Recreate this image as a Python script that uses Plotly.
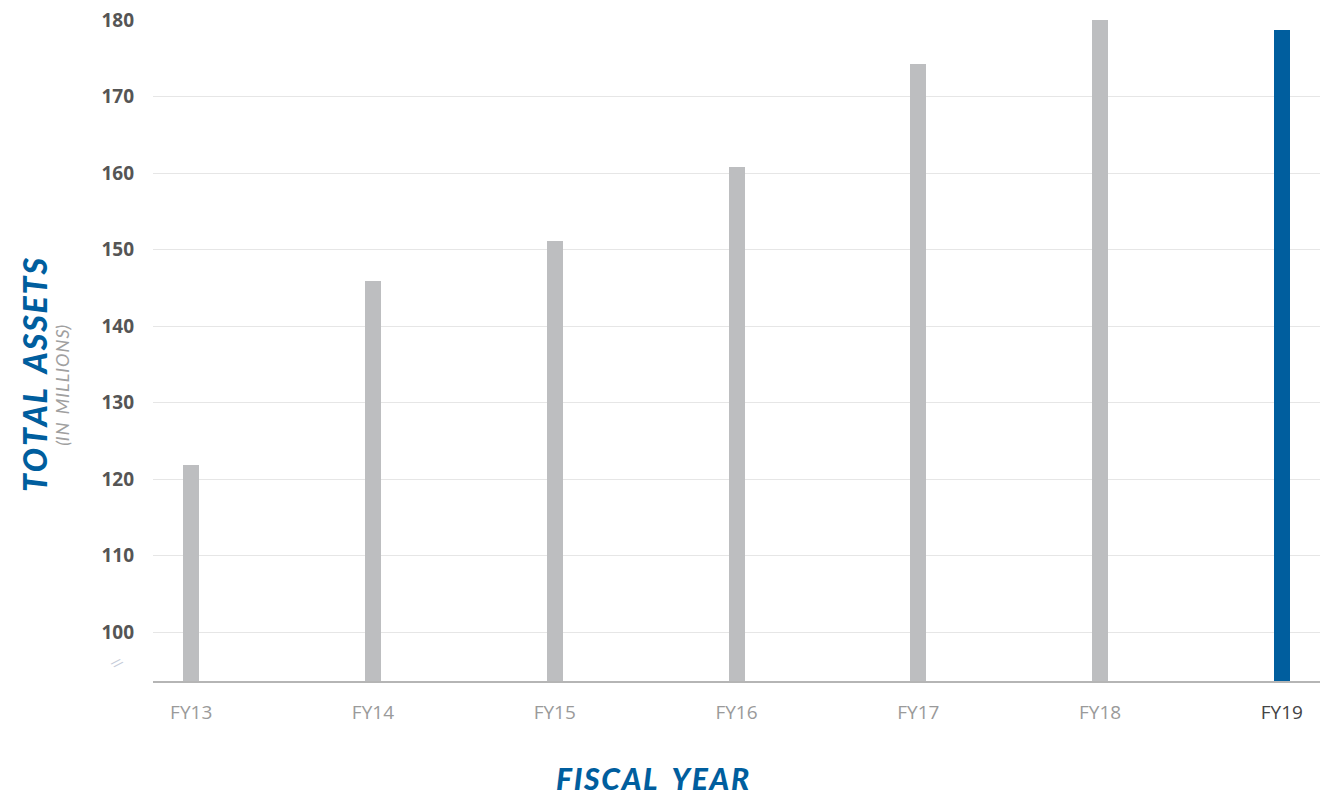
import plotly.graph_objects as go

categories = ["FY13", "FY14", "FY15", "FY16", "FY17", "FY18", "FY19"]
total_assets = [121.8, 145.9, 151.2, 160.8, 174.3, 180.0, 178.8]
y_ticks = [100, 110, 120, 130, 140, 150, 160, 170, 180]
highlight = "FY19"

GRAY = "#bdbec0"
BLUE = "#005e9e"

colors = [BLUE if c == highlight else GRAY for c in categories]
ticktext = [
    f"<span style='color:#444444'>{c}</span>" if c == highlight else c
    for c in categories
]

def spaced(s):
    return "\u200a".join(list(s))

fig = go.Figure()
fig.add_trace(go.Bar(
    x=categories,
    y=total_assets,
    marker=dict(color=colors, line=dict(width=0)),
    width=0.088,
    hoverinfo="x+y",
))

fig.update_layout(
    width=1335, height=796,
    margin=dict(l=153, r=15, t=20, b=115, autoexpand=False),
    paper_bgcolor="white",
    plot_bgcolor="white",
    showlegend=False,
    bargap=0,
    font=dict(family="Open Sans, Noto Sans, sans-serif"),
)

fig.update_xaxes(
    type="category",
    range=[-0.21, 6.21],
    tickmode="array",
    tickvals=categories,
    ticktext=ticktext,
    tickfont=dict(size=19, color="#9a9a9a", family="Open Sans, sans-serif"),
    showgrid=False,
    showline=True,
    linecolor="#b5b5b5",
    linewidth=1.5,
    ticks="",
    ticklabelstandoff=13,
    automargin=False,
    fixedrange=True,
)

fig.update_yaxes(
    range=[93.6, 180.05],
    tickmode="array",
    tickvals=y_ticks,
    ticktext=[str(v) for v in y_ticks],
    tickfont=dict(size=19, color="#555555", family="Open Sans, sans-serif", weight="bold"),
    showgrid=True,
    gridcolor="#e6e6e6",
    gridwidth=1.2,
    showline=False,
    zeroline=False,
    ticks="",
    ticklabelstandoff=18,
    automargin=False,
    fixedrange=True,
)

# axis titles
fig.add_annotation(
    text="<i>" + spaced("TOTAL") + "\u2002" + spaced("ASSETS") + "</i>",
    xref="paper", yref="paper",
    x=-0.1011, y=0.463, xanchor="center", yanchor="middle",
    textangle=-90, showarrow=False,
    font=dict(size=32, color=BLUE, family="Lato, sans-serif", weight=900),
)
fig.add_annotation(
    text="<i>(" + spaced("IN") + "\u2002" + spaced("MILLIONS") + ")</i>",
    xref="paper", yref="paper",
    x=-0.078, y=0.448, xanchor="center", yanchor="middle",
    textangle=-90, showarrow=False,
    font=dict(size=18, color="#a0a0a0", family="Lato, sans-serif"),
)
fig.add_annotation(
    text="<i>" + spaced("FISCAL") + "\u2002" + spaced("YEAR") + "</i>",
    xref="paper", yref="paper",
    x=0.4276, y=-0.147, xanchor="center", yanchor="middle",
    showarrow=False,
    font=dict(size=30, color=BLUE, family="Lato, sans-serif", weight=900),
)
# axis break mark
fig.add_annotation(
    text="//",
    xref="paper", yref="paper",
    x=-0.0308, y=0.027, xanchor="center", yanchor="middle",
    textangle=45, showarrow=False,
    font=dict(size=12, color="#c5cbd8", family="DejaVu Sans"),
)

fig.write_html(
    "out.html",
    config={"displayModeBar": False},
    post_script="document.body.style.margin='0';document.body.style.overflow='hidden';",
)
